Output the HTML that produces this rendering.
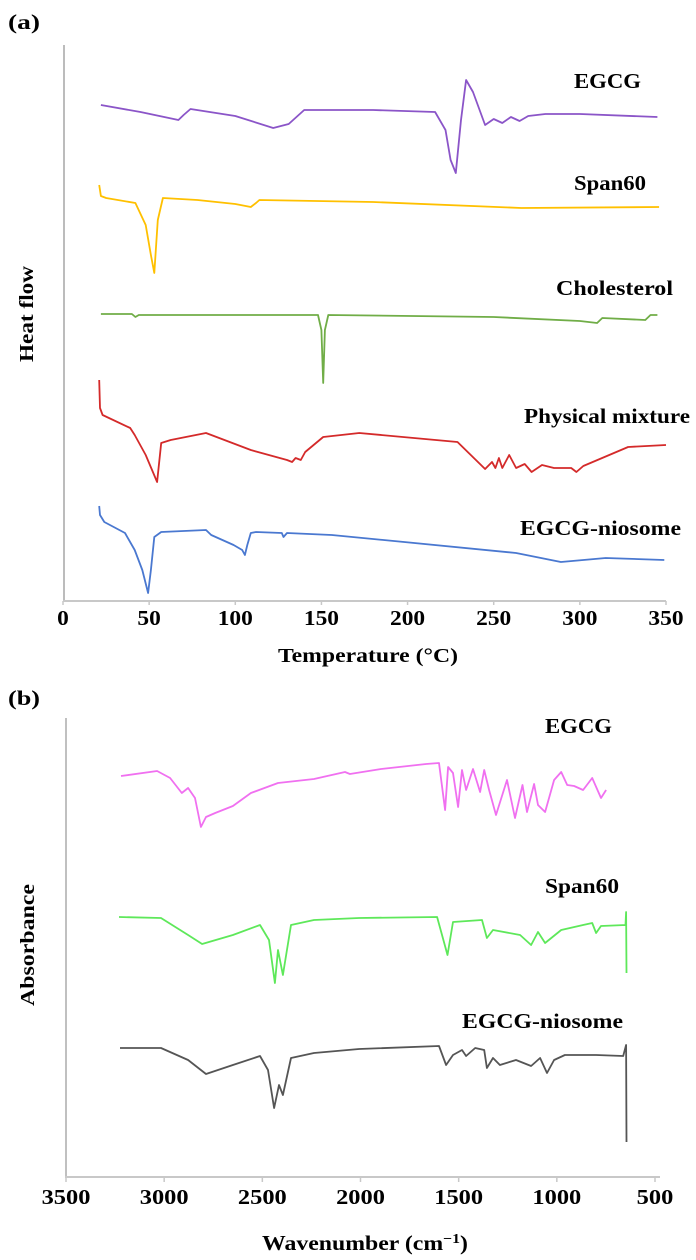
<!DOCTYPE html>
<html><head><meta charset="utf-8"><style>
html,body{margin:0;padding:0;background:#fff;}
svg{display:block;font-family:"Liberation Serif",serif;font-weight:bold;}
</style></head><body>
<svg id="fig" width="696" height="1260" viewBox="0 0 696 1260">
<text x="8" y="29" font-size="21" textLength="32" lengthAdjust="spacingAndGlyphs">(a)</text>
<text x="8" y="705" font-size="21" textLength="32" lengthAdjust="spacingAndGlyphs">(b)</text>
<line x1="64" y1="45" x2="64" y2="601" stroke="#a6a6a6" stroke-width="1.5"/>
<line x1="63" y1="601" x2="666" y2="601" stroke="#c8c8c8" stroke-width="2"/>
<text transform="translate(33,314) rotate(-90)" text-anchor="middle" font-size="20" textLength="96" lengthAdjust="spacingAndGlyphs">Heat flow</text>
<text x="368" y="662" text-anchor="middle" font-size="20" textLength="180" lengthAdjust="spacingAndGlyphs">Temperature (°C)</text>
<line x1="66" y1="718" x2="66" y2="1177" stroke="#c0c0c0" stroke-width="2"/>
<line x1="65" y1="1177" x2="660" y2="1177" stroke="#c8c8c8" stroke-width="2"/>
<text transform="translate(34,945) rotate(-90)" text-anchor="middle" font-size="20" textLength="122" lengthAdjust="spacingAndGlyphs">Absorbance</text>
<text x="365" y="1250" text-anchor="middle" font-size="21" textLength="206" lengthAdjust="spacingAndGlyphs">Wavenumber (cm<tspan baseline-shift="super" font-size="14">−1</tspan>)</text>
<g id="ga"></g><g id="gb"></g>
</svg>
<script>
// ---- Panel (a) DSC data ----
const dscTicks = [0,50,100,150,200,250,300,350];
const egcgT = [22,45,67,70,74,100,122,131,140,180,216,222,225,228,231,234,238,245,250,255,260,265,270,280,300,345];
const egcgV = [496,489,481,486,492,485,473,477,491,491,489,471,441,428,481,521,509,476,482,478,484,480,485,487,487,484];
const spanT = [21,22,25,42,48,51,53,55,58,78,100,109,112,114,180,266,346];
const spanV = [416,405,403,398,376,346,328,381,403,401,397,394,398,401,399,393,394];
const cholT = [22,40,42,44,148,150,151,152,154,250,300,310,313,338,341,342,345];
const cholV = [287,287,284,286,286,271,218,271,286,284,280,278,283,281,286,286,286];
const physT = [21,21.5,23,39,41.6,48,54.6,57,62.5,83,109,130,133,135,138,140.6,151,172,229,245,249,251,253,255,259,263,268,272,278,285,295,298,302,328,350];
const physV = [221,193,186,173,166,146,119,158,161,168,151,141,139,143,141,149,164,168,159,132,139,133,143,133,146,133,137,129,136,133,133,129,135,154,156];
const nioT = [21,21.5,24,36,41.6,46,49.4,51,53,57,83,86,99,104,105.6,107,109,112,127,128,130,156,198,263,289,315,349];
const nioV = [95,86,79,68,51,31,8,31,64,69,71,66,56,51,46,56,68,69,68,64,68,66,59,48,39,43,41];
// ---- Panel (b) FTIR data ----
const ftirTicks = [3500,3000,2500,2000,1500,1000,500];
const pinkW = [3220,3036,2970,2910,2878,2843,2813,2787,2740,2650,2558,2420,2237,2079,2054,1895,1666,1600,1569,1554,1529,1503,1483,1462,1427,1391,1370,1345,1310,1254,1213,1175,1152,1116,1096,1060,1014,978,947,912,866,820,775,749];
const pinkA = [401,406,399,384,389,379,350,360,364,371,384,394,398,405,403,408,413,414,367,410,404,370,407,387,408,385,407,387,362,397,359,392,365,393,372,365,397,405,392,391,387,399,379,387];
const greenW = [3230,3016,2878,2807,2650,2512,2466,2436,2420,2395,2354,2237,2007,1610,1557,1529,1381,1356,1325,1187,1131,1096,1060,978,866,820,800,775,650,647,645];
const greenA = [260,259,242,233,242,252,237,194,227,202,252,257,259,260,222,255,257,239,247,242,232,245,234,247,252,254,244,251,252,265,204];
const grayW = [3225,3016,2878,2787,2650,2512,2471,2440,2415,2395,2354,2237,2007,1600,1564,1529,1483,1462,1416,1370,1356,1325,1290,1208,1131,1085,1050,1014,959,800,662,647,645];
const grayA = [129,129,117,103,112,121,107,69,92,82,119,124,128,131,112,122,127,121,129,127,109,119,112,117,111,119,104,117,122,122,121,132,35];

const NS='http://www.w3.org/2000/svg';
const xa = t => 63 + t*(603/350);
const ya = v => 601 - v;
const xb = w => 66 + (3500-w)*(589/3000);
const yb = v => 1177 - v;
function el(tag, attrs, parent){const e=document.createElementNS(NS,tag);for(const k in attrs)e.setAttribute(k,attrs[k]);parent.appendChild(e);return e;}
const ga=document.getElementById('ga'), gb=document.getElementById('gb');

dscTicks.forEach(t=>{
  const tk=el('line',{x1:xa(t),x2:xa(t),y1:601,y2:605,stroke:'#c8c8c8','stroke-width':1.5},ga);
  
  
  const s=String(t);
  const tx=el('text',{x:xa(t),y:625,'text-anchor':'middle','font-size':21,textLength:s.length*11.7,lengthAdjust:'spacingAndGlyphs'},ga);
  tx.textContent=s;
  
  
});
ftirTicks.forEach(w=>{
  const tk=el('line',{x1:xb(w),x2:xb(w),y1:1177,y2:1182,stroke:'#c8c8c8','stroke-width':1.5},gb);
  
  
  const s=String(w);
  const tx=el('text',{x:xb(w),y:1204,'text-anchor':'middle','font-size':21,textLength:s.length*12.2,lengthAdjust:'spacingAndGlyphs'},gb);
  tx.textContent=s;
  
  
});

function line(xs, vs, fx, fy, color, name, parent){
  const d = xs.map((x,i)=>(i?'L':'M')+fx(x).toFixed(1)+','+fy(vs[i]).toFixed(1)).join(' ');
  const p=el('path',{d:d,fill:'none',stroke:color,'stroke-width':1.8,'stroke-linejoin':'round'},parent);
  
  
}
function label(x,y,txt,w,name,parent){
  const t=el('text',{x:x,y:y,'font-size':21,textLength:w,lengthAdjust:'spacingAndGlyphs'},parent);
  t.textContent=txt;
  
  
}
line(egcgT,egcgV,xa,ya,'#8b55c8','dsc-egcg-line',ga);
line(spanT,spanV,xa,ya,'#ffc000','dsc-span60-line',ga);
line(cholT,cholV,xa,ya,'#70ad47','dsc-cholesterol-line',ga);
line(physT,physV,xa,ya,'#d42a2a','dsc-physical-mixture-line',ga);
line(nioT,nioV,xa,ya,'#4a78d0','dsc-egcg-niosome-line',ga);
label(574,88,'EGCG',67,'dsc-egcg-label',ga);
label(574,190,'Span60',72,'dsc-span60-label',ga);
label(556,295,'Cholesterol',117,'dsc-cholesterol-label',ga);
label(524,423,'Physical mixture',166,'dsc-physical-mixture-label',ga);
label(520,535,'EGCG-niosome',161,'dsc-egcg-niosome-label',ga);

line(pinkW,pinkA,xb,yb,'#f070f0','ftir-egcg-line',gb);
line(greenW,greenA,xb,yb,'#5ee85a','ftir-span60-line',gb);
line(grayW,grayA,xb,yb,'#555555','ftir-egcg-niosome-line',gb);
label(545,733,'EGCG',67,'ftir-egcg-label',gb);
label(545,893,'Span60',74,'ftir-span60-label',gb);
label(462,1028,'EGCG-niosome',161,'ftir-egcg-niosome-label',gb);
</script>
</body></html>
